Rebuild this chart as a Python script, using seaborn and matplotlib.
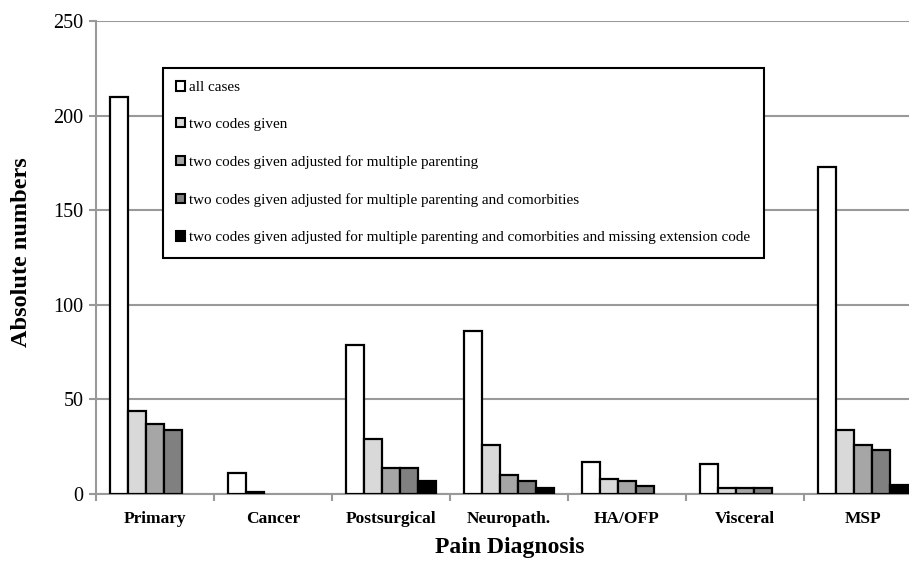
import matplotlib
matplotlib.use("Agg")
import matplotlib.pyplot as plt
import pandas as pd
import seaborn as sns

categories = ["Primary", "Cancer", "Postsurgical", "Neuropath.", "HA/OFP", "Visceral", "MSP"]
series_names = [
    "all cases",
    "two codes given",
    "two codes given adjusted for multiple parenting",
    "two codes given adjusted for multiple parenting and comorbities",
    "two codes given adjusted for multiple parenting and comorbities and missing extension code",
]
all_cases = [210, 11, 79, 86, 17, 16, 173]
two_codes = [44, 1, 29, 26, 8, 3, 34]
adj_parenting = [37, 0, 14, 10, 7, 3, 26]
adj_comorb = [34, 0, 14, 7, 4, 3, 23]
adj_missing = [0, 0, 7, 3, 0, 0, 5]
colors = ["#ffffff", "#d9d9d9", "#a6a6a6", "#808080", "#000000"]

rows = []
for name, vals in zip(series_names, [all_cases, two_codes, adj_parenting, adj_comorb, adj_missing]):
    for cat, v in zip(categories, vals):
        rows.append({"diagnosis": cat, "series": name, "count": v})
df = pd.DataFrame(rows)

sns.set_style("white")
plt.rcParams["font.family"] = ["Liberation Serif", "DejaVu Serif"]
plt.rcParams["text.color"] = "black"
plt.rcParams["xtick.labelcolor"] = "black"
plt.rcParams["ytick.labelcolor"] = "black"

fig = plt.figure(figsize=(9.09, 5.68), dpi=100)
ax = fig.add_axes([96 / 909, 74 / 568, 826 / 909, 473 / 568])

sns.barplot(data=df, x="diagnosis", y="count", hue="series", order=categories,
            hue_order=series_names, palette=colors, edgecolor="black",
            linewidth=1.6, width=0.76, ax=ax, zorder=3)

# no outline on empty bars
for p in ax.patches:
    if p.get_height() == 0:
        p.set_linewidth(0)

ax.set_ylim(0, 250)
ax.set_yticks(range(0, 251, 50))
ax.yaxis.grid(True, color="#999999", linewidth=1.5, zorder=0)
ax.set_axisbelow(True)
for s in ["top", "right"]:
    ax.spines[s].set_visible(False)
for s in ["left", "bottom"]:
    ax.spines[s].set_color("#999999")
    ax.spines[s].set_linewidth(1.5)

ax.tick_params(axis="y", which="major", direction="out", length=5, width=1.5,
               color="#999999", labelsize=14.5, left=True, pad=4)
ax.set_xticks([i + 0.5 for i in range(-1, len(categories))], minor=True)
ax.tick_params(axis="x", which="major", length=0, labelsize=12.5, pad=12)
ax.tick_params(axis="x", which="minor", direction="out", length=5, width=1.5,
               color="#999999", bottom=True)
for lab in ax.get_xticklabels():
    lab.set_fontweight("bold")

ax.set_xlabel("")
ax.set_ylabel("")
fig.text(22 / 909, 1 - 252 / 568, "Absolute numbers", rotation=90, ha="center",
         va="center", fontsize=17.5, fontweight="bold")
fig.text(510 / 909, 1 - 548 / 568, "Pain Diagnosis", ha="center", va="center",
         fontsize=17, fontweight="bold")

handles, labels = ax.get_legend_handles_labels()
leg = ax.legend(handles, labels, loc="upper left",
                bbox_to_anchor=(163 / 909, 1 - 68 / 568), bbox_transform=fig.transFigure,
                fontsize=10.9, frameon=True, fancybox=False, framealpha=1,
                edgecolor="black", borderpad=0.88, labelspacing=1.58,
                handlelength=0.55, handleheight=0.55, handletextpad=0.3,
                borderaxespad=0)
leg.get_frame().set_linewidth(1.5)
for h in leg.legend_handles:
    h.set_edgecolor("black")
    h.set_linewidth(1.5)

fig.savefig("out.png", dpi=100)
